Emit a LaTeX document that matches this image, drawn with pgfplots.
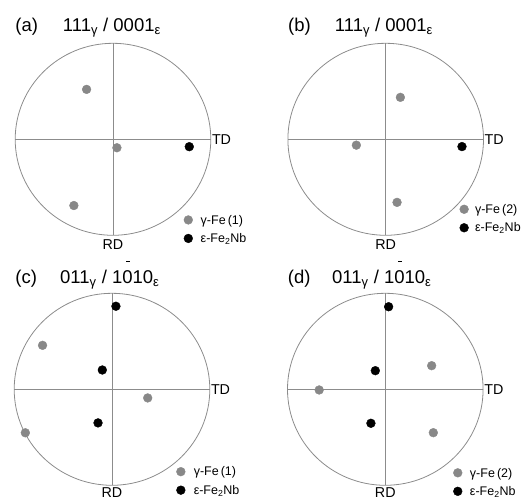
\documentclass[border=0pt]{standalone}
\usepackage{fontspec}
\setmainfont{Liberation Sans}
\usepackage{pgfplots}
\pgfplotsset{compat=1.18}

\definecolor{dotgray}{HTML}{888888}
\definecolor{linegray}{HTML}{8C8C8C}

\pgfplotsset{
  pole/.style={
    width=195.6pt, height=192pt, scale only axis,
    xmin=-1, xmax=1, ymin=-1, ymax=1,
    axis lines=none, clip=false, anchor=center,
    legend cell align=left,
    legend style={draw=none, fill=none, inner sep=0pt, outer sep=0pt,
      anchor=north west, row sep=6.5pt,
      font=\fontsize{12.5}{14}\selectfont,
      nodes={inner sep=0pt, text height=9pt, text depth=3pt},
      cells={anchor=base west}},
  },
  dots/.style={only marks, mark=*, mark size=4.4pt, color=#1,
    mark options={draw=#1, fill=#1},
    legend image code/.code={\draw[##1] plot coordinates {(0pt,4.2pt)};}},
  cross/.style={forget plot, linegray, line width=0.7pt},
}

% circle, crosshair and the TD / RD labels (#1 = drop of RD below the circle)
\newcommand\polefig[1]{%
  \draw[linegray, line width=0.8pt] (axis cs:0,0) ellipse[x radius=97.8pt, y radius=96pt];
  \addplot[cross] coordinates {(-1,0) (1,0)};
  \addplot[cross] coordinates {(0,-1) (0,1)};
  \node[anchor=west, inner sep=1pt, font=\fontsize{14.3}{17}\selectfont] at (axis cs:1,0) {TD};
  \node[anchor=north, inner sep=0pt, font=\fontsize{14.3}{17}\selectfont] at ([yshift=-#1]axis cs:0,-1) {RD};
}
\newcommand\ttl{\fontsize{18.5}{22}\selectfont}
\newcommand\barone{\rlap{\hspace{-0.34em}\raisebox{1.17em}{\rule{0.18em}{0.07em}}}1}

\begin{document}
\begin{tikzpicture}
\useasboundingbox (0,0) rectangle (525pt,500pt);

% (a)
\begin{axis}[pole, at={(113pt,360.7pt)},
  legend style={at={(axis cs:0.725,-0.79)}, column sep=8pt}]
\polefig{4.5pt}
\addplot[dots=dotgray] coordinates {(-0.27,0.52) (0.04,-0.088) (-0.40,-0.69)};
\addlegendentry{γ-Fe\,(1)}
\addplot[dots=black] coordinates {(0.78,-0.077)};
\addlegendentry{ε-Fe\textsubscript{2}Nb}
\node[anchor=base west, inner sep=0pt, font=\ttl] at (axis cs:-1.0,1.118) {(a)};
\node[anchor=base west, inner sep=0pt, font=\ttl] at (axis cs:-0.514,1.118) {111\textsubscript{γ} / 0001\textsubscript{ε}};
\end{axis}

% (b)
\begin{axis}[pole, at={(385.7pt,360.7pt)},
  legend style={at={(axis cs:0.757,-0.679)}, column sep=6.5pt}]
\polefig{4.5pt}
\addplot[dots=dotgray] coordinates {(0.15,0.437) (-0.30,-0.061) (0.116,-0.657)};
\addlegendentry{γ-Fe\,(2)}
\addplot[dots=black] coordinates {(0.78,-0.076)};
\addlegendentry{ε-Fe\textsubscript{2}Nb}
\node[anchor=base west, inner sep=0pt, font=\ttl] at (axis cs:-1.0,1.118) {(b)};
\node[anchor=base west, inner sep=0pt, font=\ttl] at (axis cs:-0.521,1.118) {111\textsubscript{γ} / 0001\textsubscript{ε}};
\end{axis}

% (c)
\begin{axis}[pole, at={(112pt,110.7pt)},
  legend style={at={(axis cs:0.659,-0.808)}, column sep=8.5pt}]
\polefig{1.8pt}
\addplot[dots=dotgray] coordinates {(-0.71,0.458) (0.365,-0.09) (-0.886,-0.453)};
\addlegendentry{γ-Fe\,(1)}
\addplot[dots=black] coordinates {(0.04,0.865) (-0.099,0.201) (-0.143,-0.35)};
\addlegendentry{ε-Fe\textsubscript{2}Nb}
\node[anchor=base west, inner sep=0pt, font=\ttl] at (axis cs:-0.99,1.097) {(c)};
\node[anchor=base west, inner sep=0pt, font=\ttl] at (axis cs:-0.532,1.097) {011\textsubscript{γ} / 10\barone0\textsubscript{ε}};
\end{axis}

% (d)
\begin{axis}[pole, at={(385.3pt,110.7pt)},
  legend style={at={(axis cs:0.696,-0.82)}, column sep=7.8pt}]
\polefig{1.8pt}
\addplot[dots=dotgray] coordinates {(0.474,0.246) (-0.676,-0.007) (0.491,-0.452)};
\addlegendentry{γ-Fe\,(2)}
\addplot[dots=black] coordinates {(0.034,0.86) (-0.102,0.194) (-0.147,-0.354)};
\addlegendentry{ε-Fe\textsubscript{2}Nb}
\node[anchor=base west, inner sep=0pt, font=\ttl] at (axis cs:-0.998,1.097) {(d)};
\node[anchor=base west, inner sep=0pt, font=\ttl] at (axis cs:-0.545,1.097) {011\textsubscript{γ} / 10\barone0\textsubscript{ε}};
\end{axis}
\end{tikzpicture}
\end{document}
